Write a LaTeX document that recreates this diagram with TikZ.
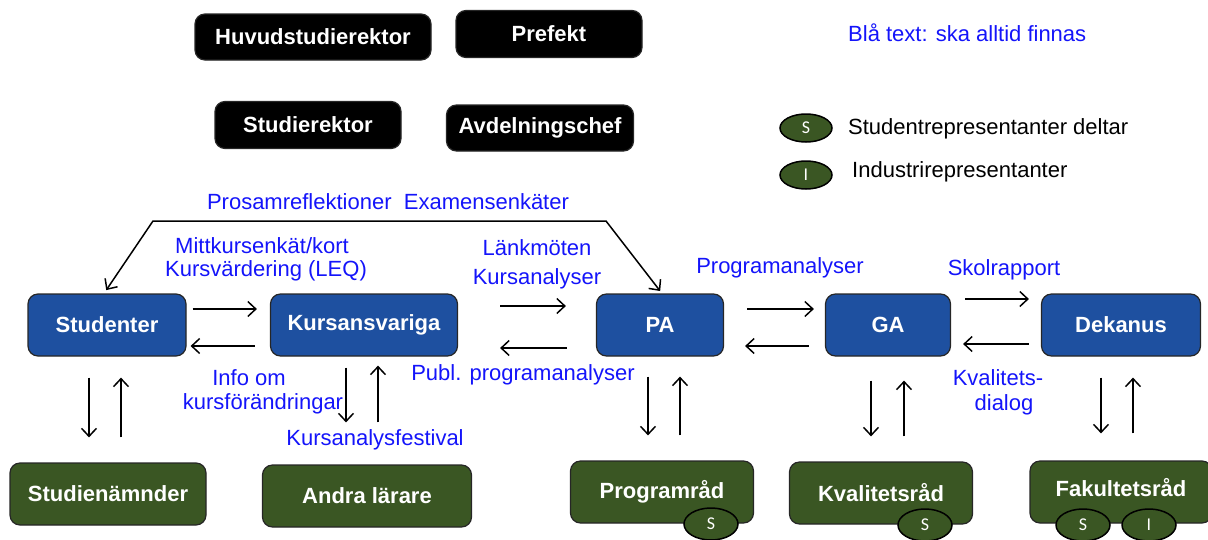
\documentclass[tikz,border=0pt]{standalone}
\usepackage{fontspec}
\setmainfont{Liberation Sans}
\newfontfamily\repfont{Carlito}
\usetikzlibrary{arrows.meta,shapes.geometric}
\definecolor{boxblue}{RGB}{30,80,160}
\definecolor{boxgreen}{RGB}{58,86,35}
\definecolor{txtblue}{RGB}{20,20,250}
\tikzset{>/.tip={Straight Barb[length=8pt,width=15pt]},
  box/.style={rounded corners=10pt, draw=black!85, line width=1.2pt, text=white,
    font=\bfseries\fontsize{22}{26}\selectfont, inner sep=0pt},
  chef/.style={box, fill=black},
  unit/.style={box, fill=boxblue, minimum height=62pt},
  board/.style={box, fill=boxgreen, minimum height=62pt},
  rep/.style={ellipse, draw=black, line width=1.5pt, fill=boxgreen, text=white,
    font=\repfont\fontsize{18}{20}\selectfont, minimum width=54pt, minimum height=32pt, inner sep=0pt},
  lbl/.style={text=txtblue, font=\fontsize{22}{26}\selectfont, inner sep=0pt},
  flow/.style={->, line width=1.5pt}}

\begin{document}
\begin{tikzpicture}[x=1pt,y=-1pt]
 \useasboundingbox (0,0) rectangle (1208,539);

 % ledning
 \node[chef, minimum width=236pt, minimum height=46pt] (hsr)  at (313,37)  {Huvudstudierektor};
 \node[chef, minimum width=186pt, minimum height=47pt] (pref) at (549,34)  {Prefekt};
 \node[chef, minimum width=186pt, minimum height=47pt] (sr)   at (308,125) {Studierektor};
 \node[chef, minimum width=187pt, minimum height=46pt] (avd)  at (540,128) {Avdelningschef};

 % legend
 \node[lbl, anchor=west] (note) at (848,33) {Blå text: ska alltid finnas};
 \node[rep, minimum width=52pt, minimum height=28pt] (legs) at (806,128) {S};
 \node[rep, minimum width=52pt, minimum height=28pt] (legi) at (806,175) {I};
 \node[anchor=west, inner sep=0pt, font=\fontsize{22}{26}\selectfont] (legstxt) at (848,129) {Studentrepresentanter deltar};
 \node[anchor=west, inner sep=0pt, font=\fontsize{22}{26}\selectfont] (legitxt) at (852,172) {Industrirepresentanter};

 % huvudkedjan
 \node[unit, minimum width=158pt] (stud) at (107,325)  {Studenter};
 \node[unit, minimum width=187pt] (kurs) at (364,325)  {Kursansvariga};
 \node[unit, minimum width=127pt] (pa)   at (660,325)  {PA};
 \node[unit, minimum width=125pt] (ga)   at (888,325)  {GA};
 \node[unit, minimum width=159pt] (dek)  at (1121,325) {Dekanus};

 % råd
 \node[board, minimum width=196pt] (stn)  at (108,494)  {Studienämnder};
 \node[board, minimum width=209pt] (andra) at (367,496) {Andra lärare};
 \node[board, minimum width=183pt] (prog) at (662,492)  {Programråd};
 \node[board, minimum width=183pt] (kval) at (881,493)  {Kvalitetsråd};
 \node[board, minimum width=182pt, text depth=9pt] (fak) at (1121,492) {Fakultetsråd};
 \node[rep] (progs) at (711,524)  {S};
 \node[rep] (kvals) at (925,525)  {S};
 \node[rep] (faks)  at (1083,525) {S};
 \node[rep] (faki)  at (1149,525) {I};

 % etiketter
 \node[lbl] (enk)   at (388,202) {Prosamreflektioner\ \ Examensenkäter};
 \node[lbl] (mitt)  at (262,246) {Mittkursenkät/kort};
 \node[lbl] (leq)   at (266,271) {Kursvärdering (LEQ)};
 \node[lbl] (lank)  at (537,248) {Länkmöten};
 \node[lbl] (kan)   at (537,279) {Kursanalyser};
 \node[lbl] (pan)   at (780,268) {Programanalyser};
 \node[lbl] (skol)  at (1004,270) {Skolrapport};
 \node[lbl] (info)  at (249,378) {Info om};
 \node[lbl] (kfor)  at (263,404) {kursförändringar};
 \node[lbl] (publ)  at (523,375) {Publ. programanalyser};
 \node[lbl] (fest)  at (375,440) {Kursanalysfestival};
 \node[lbl] (kvd1)  at (998,378) {Kvalitets-};
 \node[lbl] (kvd2)  at (1004,405) {dialog};

 % återkoppling
 \coordinate (cl) at (153,221);
 \coordinate (cr) at (606,221);
 \draw[flow, <->, shorten <=4pt, shorten >=3pt] ([xshift=-3pt]stud.north) -- (cl) -- (cr) -- ([xshift=2pt]pa.north);

 \draw[flow, shorten <=6pt, shorten >=13pt] ([yshift=16pt]stud.east) -- ([yshift=16pt]kurs.west);
 \draw[flow, shorten <=15pt, shorten >=4pt] ([yshift=-21pt]kurs.west) -- ([yshift=-21pt]stud.east);
 \draw[flow, shorten <=42pt, shorten >=30pt] ([yshift=19pt]kurs.east) -- ([yshift=19pt]pa.west);
 \draw[flow, shorten <=29pt, shorten >=42pt] ([yshift=-23pt]pa.west) -- ([yshift=-23pt]kurs.east);
 \draw[flow, shorten <=23pt, shorten >=11pt] ([yshift=16pt]pa.east) -- ([yshift=16pt]ga.west);
 \draw[flow, shorten <=16pt, shorten >=21pt] ([yshift=-21pt]ga.west) -- ([yshift=-21pt]pa.east);
 \draw[flow, shorten <=14pt, shorten >=12pt] ([yshift=26pt]ga.east) -- ([yshift=26pt]dek.west);
 \draw[flow, shorten <=12pt, shorten >=12pt] ([yshift=-19pt]dek.west) -- ([yshift=-19pt]ga.east);

 \draw[flow, shorten <=21pt, shorten >=25pt] ([xshift=-18pt]stud.south) -- ([xshift=-18pt]stud.south |- stn.north);
 \draw[flow, shorten <=25pt, shorten >=21pt] ([xshift=14pt]stud.south |- stn.north) -- ([xshift=14pt]stud.south);
 \draw[flow, shorten <=11pt, shorten >=42pt] ([xshift=-18pt]kurs.south) -- ([xshift=-18pt]kurs.south |- andra.north);
 \draw[flow, shorten <=42pt, shorten >=9pt] ([xshift=14pt]kurs.south |- andra.north) -- ([xshift=14pt]kurs.south);
 \draw[flow, shorten <=20pt, shorten >=25pt] ([xshift=-12pt]pa.south) -- ([xshift=-12pt]pa.south |- prog.north);
 \draw[flow, shorten <=25pt, shorten >=20pt] ([xshift=20pt]pa.south |- prog.north) -- ([xshift=20pt]pa.south);
 \draw[flow, shorten <=24pt, shorten >=25pt] ([xshift=-17pt]ga.south) -- ([xshift=-17pt]ga.south |- kval.north);
 \draw[flow, shorten <=25pt, shorten >=24pt] ([xshift=16pt]ga.south |- kval.north) -- ([xshift=16pt]ga.south);
 \draw[flow, shorten <=21pt, shorten >=27pt] ([xshift=-20pt]dek.south) -- ([xshift=-20pt]dek.south |- fak.north);
 \draw[flow, shorten <=27pt, shorten >=21pt] ([xshift=12pt]dek.south |- fak.north) -- ([xshift=12pt]dek.south);
\end{tikzpicture}
\end{document}
